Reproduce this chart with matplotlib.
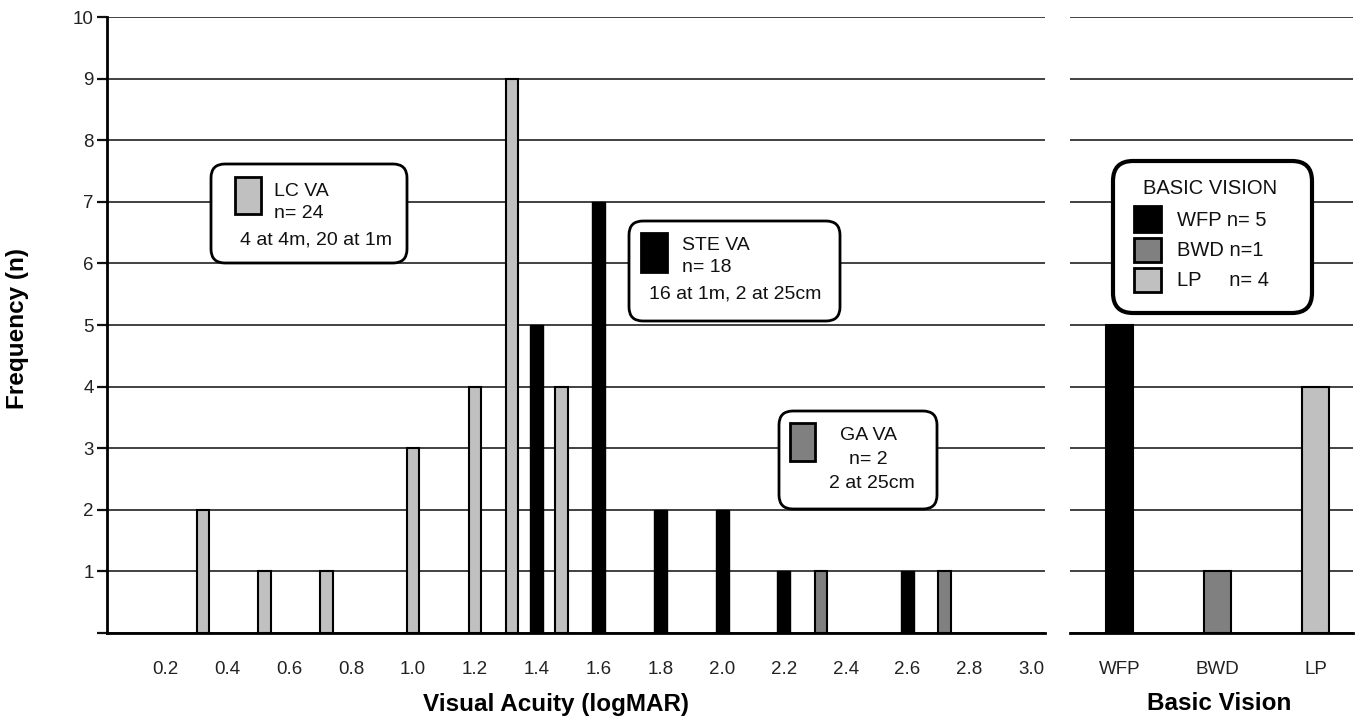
# Frequency of visual acuity (logMAR) and basic vision categories
import matplotlib.pyplot as plt
from matplotlib.patches import FancyBboxPatch, Rectangle

plt.rcParams['font.family'] = ['Liberation Sans', 'DejaVu Sans']

# LC VA (light grey), STE VA (black), GA VA (dark grey)
lc_x = [0.32, 0.52, 0.72, 1.0, 1.2, 1.32, 1.48]
lc_n = [2, 1, 1, 3, 4, 9, 4]
ste_x = [1.4, 1.6, 1.8, 2.0, 2.2, 2.6]
ste_n = [5, 7, 2, 2, 1, 1]
ga_x = [2.32, 2.72]
ga_n = [1, 1]

xticks = [0.2, 0.4, 0.6, 0.8, 1.0, 1.2, 1.4, 1.6, 1.8, 2.0, 2.2, 2.4, 2.6, 2.8, 3.0]

basic_cats = ['WFP', 'BWD', 'LP']
basic_n = [5, 1, 4]

LIGHT = '#c0c0c0'
DARK = '#808080'
BLACK = '#000000'
GRID = '#333333'

W, H = 1358, 719
fig = plt.figure(figsize=(W / 100, H / 100), dpi=100)

def px_axes(x0, x1, y0, y1):
    return [x0 / W, 1 - y1 / H, (x1 - x0) / W, (y1 - y0) / H]

ax = fig.add_axes(px_axes(107, 1045, 17, 633))
ax2 = fig.add_axes(px_axes(1070, 1353, 17, 633))

# left panel
ax.bar(lc_x, lc_n, width=0.04, color=LIGHT, edgecolor=BLACK, linewidth=1.5, zorder=3)
ax.bar(ste_x, ste_n, width=0.042, color=BLACK, edgecolor=BLACK, linewidth=1.0, zorder=3)
ax.bar(ga_x, ga_n, width=0.04, color=DARK, edgecolor=BLACK, linewidth=1.5, zorder=3)
ax.set_xlim(0.01, 3.045)
ax.set_ylim(0, 10)
ax.set_xticks(xticks)
ax.set_xticklabels(['%.1f' % v for v in xticks])
ax.set_yticks(range(0, 11))
ax.set_yticklabels([''] + [str(i) for i in range(1, 11)])
ax.tick_params(axis='x', length=0, pad=20, labelsize=13.5, colors='#222222')
ax.tick_params(axis='y', length=7.5, width=1.6, color='#111111', pad=2, labelsize=13.5, labelcolor='#222222')
ax.yaxis.grid(True, color=GRID, linewidth=1.3, zorder=0)
ax.set_axisbelow(True)
for s in ['top', 'right']:
    ax.spines[s].set_visible(False)
ax.spines['left'].set_linewidth(2)
ax.spines['bottom'].set_linewidth(2)

# right panel
pos = range(len(basic_cats))
ax2.bar(pos, basic_n, width=0.275, color=[BLACK, DARK, LIGHT], edgecolor=BLACK, linewidth=1.5, zorder=3)
ax2.set_xlim(-0.504, 2.377)
ax2.set_ylim(0, 10)
ax2.set_xticks(list(pos))
ax2.set_xticklabels(basic_cats)
ax2.set_yticks(range(0, 11))
ax2.tick_params(axis='x', length=0, pad=20, labelsize=13.5, colors='#222222')
ax2.tick_params(axis='y', length=0, labelleft=False)
ax2.yaxis.grid(True, color=GRID, linewidth=1.3, zorder=0)
ax2.set_axisbelow(True)
for s in ['top', 'right', 'left']:
    ax2.spines[s].set_visible(False)
ax2.spines['bottom'].set_linewidth(2)

# axis titles
fig.text(17.5 / W, 1 - 329 / H, 'Frequency (n)', rotation=90, ha='center', va='center',
         fontsize=17.5, fontweight='bold')
fig.text(556 / W, 1 - 705 / H, 'Visual Acuity (logMAR)', ha='center', va='center',
         fontsize=17.5, fontweight='bold')
fig.text(1219 / W, 1 - 704 / H, 'Basic Vision', ha='center', va='center',
         fontsize=17.5, fontweight='bold')

# legend boxes drawn in pixel space
ov = fig.add_axes([0, 0, 1, 1], zorder=10)
ov.set_xlim(0, W)
ov.set_ylim(H, 0)
ov.axis('off')
ov.patch.set_alpha(0)

def rbox(x0, y0, x1, y1, r=14, lw=2):
    ov.add_patch(FancyBboxPatch((x0 + r, y0 + r), x1 - x0 - 2 * r, y1 - y0 - 2 * r,
                                boxstyle='round,pad=%d,rounding_size=%d' % (r, r),
                                facecolor='white', edgecolor=BLACK, linewidth=lw))

def swatch(x0, y0, x1, y1, c):
    ov.add_patch(Rectangle((x0, y0), x1 - x0, y1 - y0, facecolor=c, edgecolor=BLACK, linewidth=2))

fs = 14
rbox(211, 164, 407, 263)
swatch(235, 177, 261, 214, LIGHT)
ov.text(274, 192, 'LC VA', fontsize=fs, va='center', color='#111111')
ov.text(274, 214, 'n= 24', fontsize=fs, va='center', color='#111111')
ov.text(240, 240, '4 at 4m, 20 at 1m', fontsize=fs, va='center', color='#111111')

rbox(629, 221, 840, 321)
swatch(641, 233, 667, 272, BLACK)
ov.text(682, 245, 'STE VA', fontsize=fs, va='center', color='#111111')
ov.text(682, 268, 'n= 18', fontsize=fs, va='center', color='#111111')
ov.text(649, 294, '16 at 1m, 2 at 25cm', fontsize=fs, va='center', color='#111111')

rbox(779, 411, 937, 509)
swatch(790, 423, 815, 461, DARK)
ov.text(868, 436, 'GA VA', fontsize=fs, va='center', ha='center', color='#111111')
ov.text(868, 459, 'n= 2', fontsize=fs, va='center', ha='center', color='#111111')
ov.text(872, 484, '2 at 25cm', fontsize=fs, va='center', ha='center', color='#111111')

rbox(1113, 161, 1312, 313, r=20, lw=3)
ov.text(1210, 188, 'BASIC VISION', fontsize=fs + 0.5, va='center', ha='center', color='#111111')
swatch(1134, 206, 1161, 232, BLACK)
swatch(1134, 238, 1161, 262, DARK)
swatch(1134, 268, 1161, 292, LIGHT)
ov.text(1177, 220, 'WFP n= 5', fontsize=fs + 0.5, va='center', color='#111111')
ov.text(1177, 251, 'BWD n=1', fontsize=fs + 0.5, va='center', color='#111111')
ov.text(1177, 281, 'LP     n= 4', fontsize=fs + 0.5, va='center', color='#111111')

plt.savefig('out.png', dpi=100)
